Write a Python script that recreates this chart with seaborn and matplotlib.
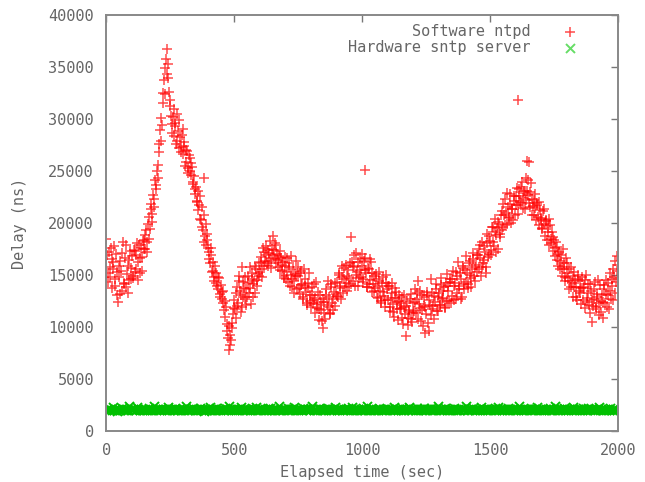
import numpy as np
import pandas as pd
import matplotlib
matplotlib.use("Agg")
import matplotlib.pyplot as plt
import seaborn as sns

# sample times (sec): two interleaved sample sets, every 5 s each
elapsed_a = np.arange(0, 2000, 5)
elapsed_b = np.arange(2.5, 2000, 5)

# software ntpd delay (ns), 10 samples per row (50 s)
ntpd_delay_a = [
    18500, 15200, 17200, 14800, 16500, 15600, 17800, 13900, 15300, 12400,
    14800, 16300, 13500, 18200, 14200, 17900, 15100, 13300, 16400, 14600,
    16800, 14700, 17300, 15600, 18100, 16200, 15200, 17600, 16700, 18400,
    17500, 19300, 18200, 20600, 19400, 21800, 20900, 22300, 24100, 23300,
    25600, 26800, 28900, 30100, 31500, 33700, 34900, 36700, 35300, 32600,
    31200, 29500, 30200, 28400, 29600, 27900, 28800, 29900, 27300, 28500,
    26600, 27400, 25900, 26900, 25300, 26200, 24600, 25400, 23900, 22800,
    23500, 22100, 21200, 22600, 20300, 19600, 20800, 18700, 17900, 18900,
    17200, 16100, 16900, 15400, 14800, 15900, 14200, 13600, 14700, 12900,
    13400, 12300, 11600, 12500, 10300, 8900, 7800, 9200, 10400, 11200,
    12600, 10900, 13800, 12300, 14400, 13100, 11900, 14300, 12700, 13600,
    12900, 14900, 13700, 12200, 15200, 14100, 13300, 15600, 14500, 16100,
    15300, 16700, 14800, 17200, 16300, 17800, 15900, 17100, 18300, 16600,
    18700, 17400, 16500, 17900, 15800, 16800, 17300, 15400, 16200, 14900,
    16700, 15300, 14300, 16100, 15000, 13800, 15600, 14400, 16300, 13600,
    14900, 13200, 15400, 14100, 12700, 14600, 13400, 12300, 14200, 13100,
    11900, 13800, 12600, 11300, 14300, 12200, 10700, 13100, 11600, 9900,
    12400, 10800, 13600, 11900, 12900, 11300, 14100, 12700, 13400, 12000,
    14300, 12900, 15200, 13700, 14800, 13300, 15700, 14200, 13500, 15500,
    14700, 18600, 16200, 14400, 15800, 17100, 15300, 13900, 16500, 14800,
    15900, 14300, 16600, 15200, 13800, 15600, 14500, 16200, 13400, 14900,
    13700, 15100, 12800, 14400, 13500, 12300, 14800, 13000, 11900, 14200,
    12600, 13900, 11500, 13300, 12200, 11000, 13700, 12400, 10700, 13100,
    11800, 12900, 10300, 11900, 9100, 12500, 10900, 11600, 13200, 10500,
    12300, 13600, 11300, 12700, 14400, 11800, 10600, 13100, 12000, 9400,
    11200, 13400, 9600, 12100, 14600, 11700, 13000, 12400, 14100, 11500,
    13300, 12100, 14700, 12800, 13800, 11900, 15100, 13500, 12500, 14300,
    13000, 15400, 13900, 12700, 14900, 16200, 13600, 14600, 12900, 15700,
    14100, 16800, 15200, 13700, 16300, 14700, 15600, 17100, 14400, 16000,
    15300, 17500, 16600, 14900, 18200, 16400, 17200, 15800, 18900, 17000,
    18300, 16900, 19600, 17800, 20400, 18800, 17500, 19900, 18600, 21100,
    19600, 20800, 22300, 19900, 21500, 20600, 22800, 21300, 20300, 22100,
    21700, 23400, 20900, 22600, 21900, 23900, 22400, 21300, 24300, 23100,
    22700, 21500, 23800, 20800, 22200, 21400, 20300, 21900, 19800, 21200,
    20500, 19400, 21300, 18700, 20200, 19100, 17900, 19800, 18500, 17300,
    18400, 16800, 17700, 15900, 17200, 16300, 14900, 17500, 15600, 14400,
    16100, 14700, 13600, 15800, 14200, 12900, 15300, 13800, 12600, 14600,
    13300, 12200, 14800, 13700, 11800, 15000, 12800, 14100, 11300, 13500,
    10500, 12700, 14300, 11900, 13200, 11100, 14000, 12500, 10900, 13600,
    12300, 14500, 13100, 11700, 15200, 13900, 12600, 14800, 16300, 15400,
]

ntpd_delay_b = [
    16900, 14300, 15800, 17600, 13700, 16200, 14600, 17000, 13100, 15900,
    13200, 15400, 17100, 14100, 16600, 13800, 15900, 14500, 17300, 15700,
    14900, 17400, 15300, 16900, 14500, 17900, 16600, 15400, 18300, 17500,
    18800, 17200, 19900, 18500, 21300, 20100, 22700, 21500, 23600, 25000,
    24300, 27600, 27900, 29400, 32500, 32400, 35800, 34300, 33900, 31800,
    30300, 28600, 31000, 29300, 27600, 30500, 27200, 28300, 26800, 29000,
    27800, 25500, 27000, 24800, 26500, 25000, 25800, 23700, 24500, 23300,
    22000, 23100, 21700, 20400, 21500, 19300, 18200, 19900, 18400, 17600,
    16500, 17600, 15300, 16200, 14400, 15200, 13900, 14800, 13200, 14000,
    12700, 13500, 11000, 11900, 9600, 10100, 8300, 8700, 9900, 11800,
    11700, 13300, 12000, 14900, 13500, 11400, 12900, 13700, 14800, 12100,
    14200, 13300, 15800, 14600, 12900, 14400, 15900, 13900, 15100, 14900,
    16200, 15600, 17600, 15900, 16900, 16100, 17400, 16300, 15700, 17500,
    16900, 18100, 16100, 17000, 16400, 15500, 16600, 16000, 14700, 15900,
    14600, 16600, 15800, 13900, 16800, 14600, 13300, 15100, 14900, 15800,
    13700, 15200, 14000, 12900, 15600, 13900, 12100, 13700, 15200, 12500,
    13100, 12300, 14100, 12800, 11800, 13400, 11700, 12400, 10600, 12700,
    11300, 13100, 12100, 14400, 11200, 13800, 12300, 11600, 14200, 13200,
    13000, 15000, 13900, 12700, 15900, 14600, 13800, 16000, 14900, 13900,
    16100, 14100, 15900, 16900, 13900, 15000, 16200, 14700, 15500, 17000,
    14600, 16300, 15500, 13800, 15700, 14100, 16500, 15200, 14100, 13500,
    14600, 12900, 13900, 15300, 12500, 14200, 13400, 12600, 15000, 13600,
    13900, 11900, 12800, 14200, 11400, 12800, 13400, 11700, 12500, 11700,
    12300, 10900, 13100, 11200, 12000, 10200, 11400, 12700, 10800, 11300,
    11500, 12400, 13300, 10800, 12200, 13500, 11600, 10100, 12900, 11900,
    13100, 10400, 12600, 11100, 13300, 12000, 10800, 13600, 11500, 12900,
    12100, 14000, 12700, 13500, 11800, 14200, 12500, 13900, 14600, 12300,
    14600, 12600, 14200, 15300, 13300, 13900, 15200, 12700, 15900, 13600,
    15500, 14300, 14100, 16100, 15000, 13800, 16500, 14900, 15800, 16900,
    16900, 15600, 17900, 15800, 16100, 17800, 15200, 18100, 16700, 18700,
    17400, 19600, 18200, 19100, 17200, 19500, 20100, 18900, 20800, 19300,
    21800, 19800, 21000, 22900, 20500, 21800, 20000, 21300, 22600, 20800,
    22600, 21700, 23300, 22000, 23500, 21400, 23100, 22900, 22200, 24100,
    21900, 23000, 22300, 21600, 20800, 22800, 21700, 20600, 22000, 20400,
    19500, 21100, 19900, 20300, 18400, 19700, 20400, 18100, 19100, 18600,
    17600, 18200, 16400, 17000, 15600, 16900, 15800, 16100, 14800, 16600,
    15200, 15600, 14400, 13800, 14900, 13800, 14500, 12900, 15000, 13500,
    14400, 13700, 12600, 13800, 14500, 12400, 13300, 12100, 14100, 12600,
    12000, 13600, 11700, 12900, 14500, 12300, 11400, 13100, 12400, 14000,
    13200, 11900, 14200, 13500, 12700, 14600, 15600, 13300, 14300, 16800,
]

# isolated ntpd spikes
spike_time = [380, 530, 1010, 1608, 1645, 1652, 2000]
spike_delay = [24300, 15800, 25100, 31800, 26000, 25900, 16000]

# hardware sntp server delay (ns)
sntp_delay = [
    2010, 2070, 1980, 2120, 2040, 2330, 2000, 2090, 1960, 2150,
    2050, 1990, 2210, 2030, 2080, 1970, 2140, 2020, 2410, 2060,
    1990, 2110, 2040, 2000, 2260, 2070, 1980, 2130, 2050, 2010,
    2090, 2020, 1970, 2180, 2040, 2100, 2000, 2350, 2060, 1990,
    2120, 2030, 2070, 1980, 2150, 2010, 2080, 2040, 2280, 2000,
    2060, 2110, 1990, 2030, 2200, 2050, 1970, 2090, 2020, 2140,
    2000, 2070, 2380, 2040, 1980, 2120, 2060, 2010, 2170, 2030,
    2080, 1990, 2050, 2240, 2020, 2100, 1960, 2070, 2030, 2130,
    2040, 2310, 2000, 2090, 2050, 1980, 2160, 2020, 2070, 2010,
    2110, 2040, 1990, 2190, 2060, 2030, 2420, 2080, 2000, 2120,
    2050, 1970, 2140, 2020, 2090, 2270, 2010, 2060, 1990, 2150,
    2030, 2080, 2040, 2000, 2200, 2070, 1980, 2340, 2050, 2100,
    2010, 2130, 2060, 1990, 2080, 2020, 2170, 2040, 2250, 2000,
    2090, 2030, 1970, 2110, 2050, 2400, 2020, 2070, 2000, 2140,
    2060, 1990, 2180, 2040, 2080, 2010, 2120, 2290, 2030, 2070,
    2000, 2100, 2050, 1980, 2230, 2060, 2020, 2090, 2140, 2010,
    2070, 2360, 2030, 2110, 1990, 2050, 2160, 2000, 2080, 2040,
    2120, 2010, 2060, 2210, 1970, 2090, 2030, 2130, 2050, 2300,
    2020, 2080, 2000, 2150, 2040, 1990, 2100, 2060, 2010, 2190,
    2070, 2030, 2260, 2000, 2110, 2050, 1980, 2140, 2020, 2090,
    2040, 2170, 2010, 2080, 2390, 2030, 2060, 1990, 2120, 2050,
    2000, 2100, 2040, 2220, 2070, 2010, 2150, 2030, 2080, 1970,
    2060, 2130, 2020, 2090, 2000, 2280, 2050, 2110, 1990, 2070,
    2030, 2180, 2040, 2010, 2120, 2060, 2000, 2330, 2080, 2020,
    2100, 2050, 1980, 2160, 2030, 2070, 2010, 2140, 2250, 2040,
    2000, 2090, 2060, 2020, 2200, 1990, 2110, 2050, 2080, 2370,
    2030, 2130, 2000, 2070, 2040, 2170, 2010, 2090, 2060, 1980,
    2120, 2020, 2240, 2050, 2000, 2100, 2030, 2150, 2070, 2010,
    2080, 2400, 2040, 1990, 2110, 2060, 2020, 2190, 2000, 2130,
    2050, 2070, 2010, 2270, 2030, 2090, 1970, 2140, 2040, 2080,
    2000, 2120, 2060, 2020, 2160, 2050, 2310, 2010, 2100, 2030,
    2070, 1990, 2130, 2040, 2210, 2000, 2080, 2060, 2020, 2150,
    2030, 2090, 2000, 2350, 2050, 2110, 2010, 2070, 1980, 2140,
    2060, 2020, 2180, 2040, 2090, 2000, 2120, 2260, 2030, 2080,
    2010, 2150, 2050, 1990, 2100, 2070, 2030, 2200, 2000, 2110,
    2040, 2380, 2060, 2020, 2130, 2000, 2080, 2050, 2170, 2010,
    2090, 2030, 2120, 2000, 2070, 2290, 2040, 1990, 2140, 2060,
    2020, 2100, 2050, 2230, 2010, 2080, 2030, 2160, 2000, 2070,
    2110, 2040, 1980, 2130, 2060, 2340, 2020, 2090, 2050, 2000,
    2150, 2030, 2070, 2010, 2190, 2050, 2100, 2000, 2080, 2040,
]

ntpd = pd.DataFrame({
    "time": np.concatenate([elapsed_a, elapsed_b, spike_time]),
    "delay": np.concatenate([ntpd_delay_a, ntpd_delay_b, spike_delay]),
})
sntp = pd.DataFrame({"time": elapsed_a, "delay": sntp_delay})

sns.set_style("white")
plt.rcParams["font.family"] = ["DejaVu Sans Mono", "DejaVu Sans"]
grey = "#666666"
fs = 11

fig = plt.figure(figsize=(6.45, 4.82), dpi=100)
ax = fig.add_axes([0.165, 0.106, 0.793, 0.863])

sns.scatterplot(data=sntp, x="time", y="delay", ax=ax, marker="x",
                color="#00c000", s=42, linewidth=1.4, label="Hardware sntp server")
sns.scatterplot(data=ntpd, x="time", y="delay", ax=ax, marker="+",
                color="#ff0000", s=48, linewidth=1.1, alpha=0.7,
                label="Software ntpd")

ax.set_xlim(0, 2000)
ax.set_ylim(0, 40000)
ax.set_xticks([0, 500, 1000, 1500, 2000])
ax.set_yticks(range(0, 40001, 5000))
ax.set_xlabel("Elapsed time (sec)", fontsize=fs, color=grey, labelpad=5)
ax.set_ylabel("Delay (ns)", fontsize=fs, color=grey, labelpad=15)
ax.tick_params(direction="in", length=5, width=1, colors="#777777",
               labelcolor=grey, labelsize=fs, pad=9,
               top=True, right=True)
for sp in ax.spines.values():
    sp.set_color("#888888")
    sp.set_linewidth(1.4)

# gnuplot-style key: markers on the right, ntpd first
h, l = ax.get_legend_handles_labels()
leg = ax.legend([h[1], h[0]], [l[1], l[0]], loc="upper right", frameon=False,
                markerfirst=False, fontsize=fs, handletextpad=1.6,
                borderaxespad=0.2, labelspacing=0.05,
                bbox_to_anchor=(0.955, 1.0))
for t in leg.get_texts():
    t.set_color(grey)
leg.legend_handles[1].set_color("#66dd66")

fig.savefig("out.png", dpi=100)
